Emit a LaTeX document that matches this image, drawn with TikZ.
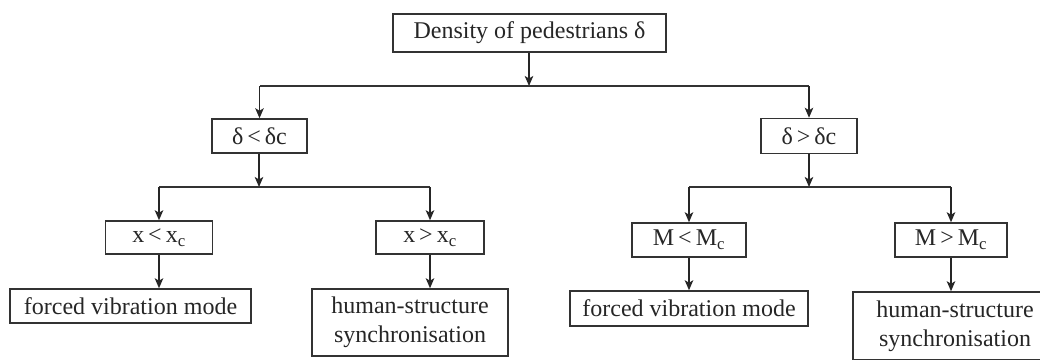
\documentclass[tikz,border=0pt]{standalone}
\usepackage{fontspec}
\setmainfont{Liberation Serif}
\usetikzlibrary{arrows.meta}
\begin{document}
\begin{tikzpicture}[x=1pt,y=-1pt,
  box/.style={draw=black!80, line width=1.5pt, inner sep=0pt, align=center,
    text=black!85, font=\fontsize{24}{29}\selectfont},
  arr/.style={draw=black!85, line width=1.5pt, -{Stealth[length=10pt,width=8.5pt,inset=2.5pt]}},
  ln/.style={draw=black!80, line width=1.5pt}]
\useasboundingbox (0,0) rectangle (1040,359);
\node[box, minimum width=273pt, minimum height=38pt] (top) at (529.5,33) {Density of pedestrians δ};
\node[box, minimum width=95pt, minimum height=34pt] (dl) at (259.5,136) {δ\,<\,δc};
\node[box, minimum width=96pt, minimum height=35pt] (dg) at (809,136) {δ\,>\,δc};
\node[box, minimum width=107pt, minimum height=33pt] (xl) at (159,237.5) {x\,<\,x\textsubscript{c}};
\node[box, minimum width=108pt, minimum height=33pt] (xg) at (430,237.5) {x\,>\,x\textsubscript{c}};
\node[box, minimum width=114pt, minimum height=34pt] (ml) at (689,240) {M\,<\,M\textsubscript{c}};
\node[box, minimum width=112pt, minimum height=34pt] (mg) at (951,240) {M\,>\,M\textsubscript{c}};
\node[box, minimum width=241pt, minimum height=34pt] (fl) at (130.5,306) {forced vibration mode};
\node[box, minimum width=196pt, minimum height=67pt] (hl) at (410,322.5) {human-structure\\synchronisation};
\node[box, minimum width=238pt, minimum height=35pt] (fr) at (689,308.5) {forced vibration mode};
\node[box, minimum width=204pt, minimum height=68pt] (hr) at (955,326) {human-structure\\synchronisation};
\coordinate (j1) at (529,86);
\coordinate (j2) at (259,187);
\coordinate (j3) at (809,187);
% top level
\draw[arr] (top.south -| j1) -- (j1);
\draw[ln] (j1) -- (j1 -| dl) (j1) -- (j1 -| dg);
\draw[arr] (j1 -| dl) -- (dl.north);
\draw[arr] (j1 -| dg) -- (dg.north);
% left branch
\draw[arr] (dl.south -| j2) -- (j2);
\draw[ln] (j2 -| xl) -- (j2 -| xg);
\draw[arr] (j2 -| xl) -- (xl.north);
\draw[arr] (j2 -| xg) -- (xg.north);
\draw[arr] (xl.south) -- (xl.south |- fl.north);
\draw[arr] (xg.south) -- (xg.south |- hl.north);
% right branch
\draw[arr] (dg.south -| j3) -- (j3);
\draw[ln] (j3 -| ml) -- (j3 -| mg);
\draw[arr] (j3 -| ml) -- (ml.north);
\draw[arr] (j3 -| mg) -- (mg.north);
\draw[arr] (ml.south) -- (ml.south |- fr.north);
\draw[arr] (mg.south) -- (mg.south |- hr.north);
\end{tikzpicture}
\end{document}
